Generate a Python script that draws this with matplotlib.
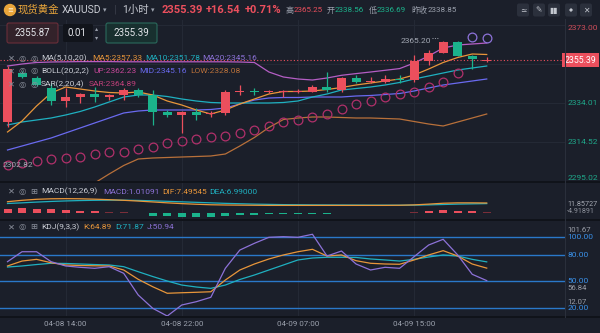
import matplotlib
matplotlib.use('Agg')
import matplotlib.pyplot as plt
import numpy as np
from matplotlib.lines import Line2D
from matplotlib.patches import Circle, FancyBboxPatch, FancyArrowPatch
from matplotlib.transforms import Affine2D, blended_transform_factory, offset_copy

# hourly candles, 04-08 10:00 .. 04-09 20:00 (close hour 06:00 skipped)
opens = [2324.5, 2349.0, 2346.5, 2341.5, 2335.0, 2337.0, 2338.5, 2337.0, 2338.0, 2340.5,
         2338.0, 2329.5, 2328.0, 2329.5, 2328.5, 2329.0, 2339.5, 2339.8, 2339.5, 2339.5,
         2339.5, 2339.6, 2342.0, 2340.5, 2346.5, 2344.8, 2344.5, 2346.0, 2345.5, 2355.0,
         2359.2, 2364.6, 2357.5, 2355.3]
highs = [2352.5, 2350.0, 2347.5, 2344.0, 2341.5, 2339.0, 2342.0, 2338.5, 2341.5, 2341.5,
         2340.5, 2330.5, 2330.0, 2331.5, 2330.0, 2340.5, 2343.0, 2341.5, 2340.5, 2340.5,
         2341.2, 2343.0, 2349.5, 2347.0, 2348.0, 2347.0, 2348.0, 2348.0, 2358.0, 2360.5,
         2365.2, 2365.0, 2357.8, 2356.8]
lows = [2322.0, 2346.5, 2342.5, 2333.0, 2332.0, 2334.0, 2334.5, 2335.5, 2335.5, 2337.0,
        2323.0, 2327.0, 2319.0, 2325.5, 2327.0, 2328.0, 2338.0, 2338.0, 2339.0, 2337.0,
        2339.0, 2339.5, 2339.5, 2339.5, 2344.0, 2344.0, 2344.0, 2344.0, 2344.5, 2353.0,
        2358.8, 2357.5, 2351.0, 2354.5]
closes = [2351.0, 2347.0, 2343.0, 2335.0, 2337.0, 2338.5, 2337.0, 2338.0, 2340.5, 2338.0,
          2329.5, 2328.0, 2329.5, 2328.0, 2329.0, 2339.5, 2340.0, 2339.5, 2339.8, 2339.7,
          2340.0, 2342.2, 2340.5, 2346.5, 2344.5, 2345.0, 2346.0, 2345.5, 2355.2, 2359.0,
          2364.6, 2357.5, 2355.9, 2355.39]

ma5 = [2319.5, 2325.0, 2332.5, 2339.0, 2342.0, 2341.0, 2340.0, 2339.25, 2339.0, 2339.5,
       2338.0, 2335.0, 2333.0, 2330.5, 2328.5, 2330.5, 2333.5, 2336.0, 2338.5, 2339.75,
       2339.75, 2340.0, 2340.75, 2341.75, 2343.0, 2344.0, 2345.0, 2346.0, 2348.0, 2351.0,
       2354.25, 2356.75, 2358.5, 2358.25]
ma10 = [2323.0, 2324.5, 2325.5, 2326.5, 2328.0, 2329.75, 2332.0, 2334.5, 2337.0, 2338.0,
        2338.0, 2337.25, 2336.0, 2335.0, 2334.25, 2334.0, 2334.0, 2334.0, 2334.0, 2334.25,
        2335.0, 2337.0, 2338.5, 2340.5, 2341.25, 2342.0, 2343.0, 2344.25, 2346.0, 2347.5,
        2349.0, 2350.5, 2351.5, 2352.5]
boll_mid = [2310.5, 2312.5, 2314.5, 2316.5, 2319.0, 2321.5, 2324.0, 2326.5, 2329.0, 2330.0,
            2330.5, 2330.5, 2330.5, 2330.5, 2330.75, 2331.5, 2333.5, 2335.5, 2336.5, 2336.75,
            2336.75, 2337.0, 2337.0, 2337.0, 2337.5, 2337.75, 2338.25, 2338.75, 2340.0, 2341.5,
            2343.0, 2344.0, 2345.0, 2346.0]
boll_up = [2352.5, 2353.5, 2354.25, 2354.5, 2354.6, 2354.7, 2354.7, 2354.7, 2354.6, 2354.6,
           2354.6, 2354.6, 2354.6, 2354.6, 2354.6, 2354.6, 2354.5, 2354.25, 2349.5, 2347.0,
           2346.0, 2345.5, 2346.5, 2347.85, 2348.7, 2349.5, 2350.35, 2351.2, 2354.0, 2357.5,
           2361.5, 2363.0, 2363.5, 2364.0]
boll_low = [2275.0, 2276.0, 2278.0, 2281.0, 2285.0, 2289.5, 2294.0, 2298.5, 2302.75, 2306.0,
            2306.5, 2306.75, 2307.0, 2307.25, 2307.5, 2308.5, 2312.5, 2316.75, 2321.75, 2325.75,
            2326.5, 2327.0, 2327.0, 2326.75, 2326.5, 2326.5, 2326.25, 2326.0, 2324.75, 2323.5,
            2322.5, 2324.5, 2326.5, 2328.5]
sar = [2303.0, 2304.0, 2305.0, 2305.85, 2306.35, 2307.15, 2308.5, 2309.35, 2309.65, 2310.85,
       2312.15, 2313.85, 2315.0, 2316.0, 2316.85, 2317.5, 2318.85, 2320.5, 2322.65, 2324.35,
       2325.5, 2326.85, 2328.5, 2330.85, 2333.35, 2335.15, 2336.85, 2338.35, 2339.35, 2342.15,
       2344.75, 2349.15, 2367.0, 2366.75]

dif = [8.5, 9.6, 10.4, 10.8, 10.9, 10.8, 10.5, 10.1, 9.6, 9.0, 8.3, 7.6, 7.0, 6.5, 6.1, 5.9, 5.8,
       5.7, 5.6, 5.6, 5.6, 5.6, 5.6, 5.6, 5.6, 5.6, 5.6, 5.7, 6.0, 6.6, 7.3, 7.6, 7.6, 7.5]
dea = [7.1, 7.6, 8.2, 8.7, 9.1, 9.4, 9.6, 9.7, 9.7, 9.5, 9.2, 8.8, 8.4, 8.0, 7.6, 7.2, 6.9, 6.6,
       6.4, 6.2, 6.1, 6.0, 5.95, 5.9, 5.85, 5.8, 5.8, 5.75, 5.8, 6.0, 6.3, 6.6, 6.8, 7.0]
macd = [2.8, 3.2, 2.8, 2.4, 2.0, 1.4, 1.0, 0.5, 0.3, -0.3, -2.4, -3.0, -3.3, -3.4, -3.2, -2.8,
        -2.1, -1.8, -1.5, -1.2, -1.0, -0.9, -0.8, -0.7, -0.65, -0.6, -0.5, -0.35, 0.35, 1.2,
        1.8, 1.4, 1.1, 0.5]

k_vals = [67.3, 72.8, 74.7, 70.9, 68.4, 67.8, 67.5, 67.3, 62.8, 52.4, 44.1, 36.8, 37.4, 37.9,
          38.5, 51.6, 62.8, 69.5, 75.1, 79.6, 83.2, 85.9, 78.4, 79.6, 73.2, 70.3, 69.5, 69.2,
          74.0, 79.6, 84.4, 78.4, 69.5, 64.89]
d_vals = [66.1, 67.3, 68.9, 70.3, 70.1, 69.5, 68.9, 68.4, 66.5, 60.9, 55.5, 50.5, 46.0, 43.8,
          42.3, 46.0, 52.2, 57.2, 62.8, 68.4, 74.0, 76.2, 77.0, 77.0, 76.8, 75.1, 74.0, 72.8,
          74.7, 77.3, 79.6, 78.4, 74.7, 71.87]
j_vals = [72.1, 83.2, 83.2, 72.1, 67.3, 65.8, 64.7, 66.5, 59.1, 34.9, 20.0, 11.4, 23.7, 27.4,
          32.3, 64.7, 85.1, 92.6, 99.3, 100.0, 99.3, 102.7, 78.4, 84.0, 69.5, 62.8, 65.8, 64.7,
          77.7, 90.7, 97.1, 79.6, 58.0, 50.94]

tick_idx = [4, 12, 20, 28]
tick_labels = ['04-08 14:00', '04-08 22:00', '04-09 07:00', '04-09 15:00']
price_ticks = [2295.02, 2314.52, 2334.01, 2353.51, 2373.00]
kdj_levels = [20, 50, 80, 100]
kdj_side = ['101.67', '56.84', '12.07']
macd_side = ['11.85727', '-4.91891']
last_price = 2355.39
low_mark = 2302.82
ask, bid, lot = 2355.87, 2355.39, 0.01
change, change_pct = 16.54, 0.71
day_high, day_open, day_low, prev_close = 2365.25, 2338.56, 2336.69, 2338.85

BG = '#1b1f2a'
RED = '#eb4f5d'
GREEN = '#1bb38c'
GRID = '#252a36'
TXT = '#9ba1ad'
LIGHT = '#c9ccd4'
ORANGE = '#e8963a'
TEAL = '#1fb0c0'
PURPLE = '#8d72d8'
BLUE = '#6a6af0'
ORCHID = '#b45ec4'
BROWN = '#b8703a'
CRIMSON = '#b0306a'

plt.rcParams['font.family'] = ['Roboto', 'Noto Sans CJK SC', 'DejaVu Sans']

W, H = 600, 333
fig = plt.figure(figsize=(W / 100, H / 100), dpi=100, facecolor=BG)
PX = Affine2D().scale(1 / W, -1 / H).translate(0, 1) + fig.transFigure


def rect(x0, y0, x1, y1):
    return [x0 / W, 1 - y1 / H, (x1 - x0) / W, (y1 - y0) / H]


def ptext(x, y, s, **kw):
    kw.setdefault('va', 'center')
    kw.setdefault('fontsize', 6)
    kw.setdefault('color', TXT)
    fig.text(x, y, s, transform=PX, **kw)


opens, highs, lows, closes = map(np.array, (opens, highs, lows, closes))
n = len(closes)
idx = np.arange(n)

ax = fig.add_axes(rect(0, 20, 565, 182))
axm = fig.add_axes(rect(0, 182, 565, 219.5))
axk = fig.add_axes(rect(0, 219.5, 565, 317))
for a in (ax, axm, axk):
    a.set_facecolor(BG)
    a.set_xlim(-0.517, 38.39)
    a.set_xticks([])
    a.set_yticks([])
    for s in a.spines.values():
        s.set_visible(False)
    for t in tick_idx:
        a.axvline(t, color=GRID, lw=0.7, zorder=0)

# ---- main price panel ----
ax.set_ylim(2294.5, 2375.5)
for p in price_ticks:
    ax.axhline(p, color=GRID, lw=0.7, zorder=0)

ax.plot(idx, boll_up, color=ORCHID, lw=0.9, zorder=2)
ax.plot(idx, boll_low, color=BROWN, lw=0.9, zorder=2)
ax.plot(idx, boll_mid, color=BLUE, lw=0.9, zorder=2)
ax.plot(idx, ma10, color=TEAL, lw=0.9, zorder=2)
ax.plot(idx, ma5, color=ORANGE, lw=0.9, zorder=2)

sar = np.array(sar)
below = sar < lows
ax.plot(idx[below], sar[below], 'o', mfc='none', mec=CRIMSON, ms=6.3, mew=0.9, zorder=3)
ax.plot(idx[~below], sar[~below], 'o', mfc='none', mec=PURPLE, ms=6.3, mew=0.9, zorder=3)

up = closes >= opens
cols = np.where(up, RED, GREEN)
ax.vlines(idx, lows, highs, colors=cols, lw=0.9, zorder=4)
body = np.maximum(np.abs(closes - opens), 0.5)
mid = (opens + closes) / 2
ax.bar(idx, body, bottom=mid - body / 2, width=0.62, color=cols, lw=0, zorder=5)

ax.axhline(last_price, color=RED, lw=0.8, ls=(0, (1, 2)), zorder=6)

hi = int(np.argmax(highs))
ax.text(hi - 0.85, highs[hi], f'{highs[hi]:.2f}', ha='right', va='center',
        color='#a3a8b3', fontsize=6, zorder=7)
ax.plot([hi - 0.8, hi - 0.35], [highs[hi] + 1.2] * 2, color='#a3a8b3', lw=0.7,
        ls=(0, (1, 1.5)), zorder=7)
ax.text(-0.35, low_mark, f'{low_mark:.2f}', ha='left', va='center', color='#a3a8b3',
        fontsize=6, zorder=7)

ytr = ax.get_yaxis_transform()
for p in price_ticks:
    if abs(p - last_price) < 3:
        continue  # hidden behind the last-price tag
    va = 'top' if p == max(price_ticks) else ('bottom' if p == min(price_ticks) else 'center')
    c = '#cf4e5b' if p == max(price_ticks) else '#1fa88a'
    ax.text(1.004, p, f'{p:.2f}', transform=ytr, ha='left', va=va, color=c,
            fontsize=6, clip_on=False, zorder=8)
ax.text(1.0275, last_price, f'{last_price:.2f}', transform=ytr, ha='center', va='center',
        color='white', fontsize=6.3, clip_on=False, zorder=20,
        bbox=dict(boxstyle='square,pad=0.3', fc=RED, ec='none'))

# ---- MACD panel ----
axm.set_ylim(-5.5, 24)
macd = np.array(macd)
strong = np.abs(macd) >= 0.6
mcols = np.where(macd >= 0, np.where(strong, RED, '#7a2e39'), np.where(strong, GREEN, '#177060'))
axm.bar(idx, macd, width=0.55, color=mcols, lw=0, zorder=2)
axm.plot(idx, dea, color=TEAL, lw=0.9, zorder=3)
axm.plot(idx, dif, color=ORANGE, lw=0.9, zorder=3)
ptext(567, 204.8, macd_side[0], color='#a7abb4', fontsize=5.2)
ptext(567, 211.8, macd_side[1], color='#8d919b', fontsize=5.2)

# ---- KDJ panel ----
axk.set_ylim(10.3, 119.2)
for lv in kdj_levels:
    axk.axhline(lv, color='#2a78c9', lw=1.0, zorder=1)
axk.plot(idx, d_vals, color=TEAL, lw=0.9, zorder=3)
axk.plot(idx, k_vals, color=ORANGE, lw=0.9, zorder=3)
axk.plot(idx, j_vals, color=PURPLE, lw=0.9, zorder=3)
ktr = axk.get_yaxis_transform()
for lv in kdj_levels:
    axk.text(1.004, lv, f'{lv:.2f}', transform=ktr, ha='left', va='center',
             color='#3a90e8', fontsize=6, clip_on=False, zorder=6)
for lab, lv, dy in zip(kdj_side, [100, 50, 20], [-6.5, 6.5, -6.8]):
    axk.text(1.004, lv, lab, transform=offset_copy(ktr, fig, y=-dy, units='dots'),
             ha='left', va='center', color='#9a9ea8', fontsize=5.6, clip_on=False, zorder=5)
xtr = blended_transform_factory(axk.transData, axk.transAxes)
for t, lab in zip(tick_idx, tick_labels):
    axk.text(t, -0.072, lab, transform=xtr, ha='center', va='center', color=TXT,
             fontsize=5.8, clip_on=False)

# ---- separators ----
for yy in (182, 219.5, 317):
    fig.add_artist(Line2D([0, W], [yy, yy], transform=PX, color='#10131a', lw=1.4))
fig.add_artist(Line2D([565, 565], [19, 317], transform=PX, color='#2a2f3b', lw=0.8))

# ---- header ----
fig.add_artist(Circle((10, 10), 5.5, transform=PX, color='#e9a63b'))
ptext(10, 10.5, '≡', ha='center', color='#fff4dc', fontsize=5, family='DejaVu Sans')
ptext(18, 10, '现货黄金', color='#e9a63b', fontsize=7.5)
ptext(62, 10, 'XAUUSD', color=LIGHT, fontsize=7.5)
ptext(103, 10, '▾', fontsize=5, family='DejaVu Sans')
ptext(114, 10, '|', color='#3b404c', fontsize=8)
ptext(122, 10, '1小时', color=LIGHT, fontsize=7.5)
ptext(151, 10, '▾', fontsize=5, family='DejaVu Sans')
ptext(162, 10, f'{last_price:.2f}', color=RED, fontsize=8, weight='bold')
ptext(206, 10, f'+{change:.2f}', color=RED, fontsize=8, weight='bold')
ptext(245, 10, f'+{change_pct:.2f}%', color=RED, fontsize=8, weight='bold')
ptext(286, 10, '高', fontsize=5.8)
ptext(293.5, 10, f'{day_high:.2f}', color=RED, fontsize=5.8)
ptext(327, 10, '开', fontsize=5.8)
ptext(335, 10, f'{day_open:.2f}', color=GREEN, fontsize=5.8)
ptext(369, 10, '低', fontsize=5.8)
ptext(377, 10, f'{day_low:.2f}', color=GREEN, fontsize=5.8)
ptext(411, 10, '昨收', fontsize=5.8)
ptext(428, 10, f'{prev_close:.2f}', fontsize=5.8)
icon_x = [517, 533, 548, 565, 580]
icon_g = ['≃', '✎', '▮▮', None, '✕']
for x0, g in zip(icon_x, icon_g):
    fig.add_artist(FancyBboxPatch((x0, 3.5), 12, 13, boxstyle='round,pad=0,rounding_size=2',
                                  transform=PX, fc='#2b303c', ec='none'))
    if g is None:
        # diagonal expand arrow (glyph missing from installed fonts)
        fig.add_artist(FancyArrowPatch((x0 + 2.5, 13.5), (x0 + 9.5, 6.5), transform=PX,
                                       arrowstyle='<->', mutation_scale=4, color='#c3c7cf',
                                       lw=0.7))
    else:
        ptext(x0 + 6, 10, g, ha='center', color='#c3c7cf', fontsize=5.5, family='DejaVu Sans')

fig.add_artist(FancyBboxPatch((7, 23), 51, 20, boxstyle='round,pad=0,rounding_size=2',
                              transform=PX, fc='#33222a', ec='#6a2e39', lw=0.8))
ptext(32.5, 33, f'{ask:.2f}', ha='center', color='#e3e5ea', fontsize=7)
fig.add_artist(FancyBboxPatch((63, 24), 30, 18, boxstyle='round,pad=0,rounding_size=1.5',
                              transform=PX, fc='#11141b', ec='none'))
ptext(68, 33, f'{lot:.2f}', color='#e3e5ea', fontsize=7)
ptext(97, 29, '▴', ha='center', fontsize=4.5, family='DejaVu Sans')
ptext(97, 38, '▾', ha='center', fontsize=4.5, family='DejaVu Sans')
fig.add_artist(FancyBboxPatch((106, 23), 51, 20, boxstyle='round,pad=0,rounding_size=2',
                              transform=PX, fc='#18302f', ec='#2a6a5c', lw=0.8))
ptext(131.5, 33, f'{bid:.2f}', ha='center', color='#e3e5ea', fontsize=7)

# ---- indicator legends ----
legend_rows = [
    (58, 'MA(5,10,20)', [(92, 'MA5:2357.33', ORANGE), (145, 'MA10:2351.78', TEAL),
                         (202, 'MA20:2345.16', PURPLE)], '◎'),
    (71, 'BOLL(20,2,2)', [(93, 'UP:2362.23', '#c8489a'), (139, 'MID:2345.16', BLUE),
                          (190, 'LOW:2328.08', BROWN)], '◎'),
    (84, 'SAR(2,20,4)', [(89, 'SAR:2364.89', '#c0407a')], '◎'),
    (191.5, 'MACD(12,26,9)', [(103, 'MACD:1.01091', PURPLE), (162, 'DIF:7.49545', ORANGE),
                              (209, 'DEA:6.99000', TEAL)], '⊞'),
    (226.7, 'KDJ(9,3,3)', [(83, 'K:64.89', ORANGE), (115, 'D:71.87', TEAL),
                           (147, 'J:50.94', PURPLE)], '⊞'),
]
for yy, name, items, icon in legend_rows:
    ptext(11, yy, '✕', ha='center', color='#8a8f9b', fontsize=6, family='DejaVu Sans')
    ptext(22.5, yy, '◎', ha='center', color='#8a8f9b', fontsize=6, family='DejaVu Sans')
    ptext(34, yy, icon, ha='center', color='#8a8f9b', fontsize=6, family='DejaVu Sans')
    ptext(41, yy, name, color=LIGHT, fontsize=6)
    for xx, s, c in items:
        ptext(xx, yy, s, color=c, fontsize=6)

fig.savefig('out.png', dpi=100, facecolor=BG)
